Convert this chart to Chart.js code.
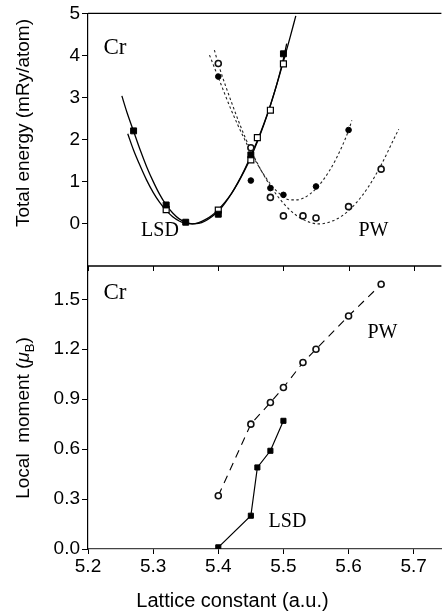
<!DOCTYPE html>
<html><head><meta charset="utf-8">
<script src="https://cdn.jsdelivr.net/npm/chart.js@4.4.1/dist/chart.umd.min.js"></script>
<style>
html,body{margin:0;padding:0;background:#fff;}
#wrap{position:relative;width:447px;height:615px;overflow:hidden;background:#fff;}
canvas{position:absolute;left:0;}
#c1{top:0;} #c2{top:250px;}
</style></head><body>
<div id="wrap"><canvas id="c1" width="447" height="280"></canvas><canvas id="c2" width="447" height="365"></canvas></div>
<script>
// ---------- data ----------
const xTicks = [5.2, 5.3, 5.4, 5.5, 5.6, 5.7];
const eTicks = [0, 1, 2, 3, 4, 5];
const mTicks = [0.0, 0.3, 0.6, 0.9, 1.2, 1.5];

// Top panel: total energy (mRy/atom)
const lsdFilledX = [5.27, 5.32, 5.35, 5.40, 5.45, 5.50];
const lsdFilledE = [2.21, 0.45, 0.04, 0.23, 1.64, 4.04];
const lsdOpenX = [5.32, 5.40, 5.45, 5.46, 5.48, 5.50];
const lsdOpenE = [0.34, 0.33, 1.52, 2.05, 2.70, 3.80];
const pwFilledX = [5.40, 5.45, 5.48, 5.50, 5.55, 5.60];
const pwFilledE = [3.50, 1.03, 0.85, 0.69, 0.89, 2.23];
const pwOpenX = [5.40, 5.45, 5.48, 5.50, 5.53, 5.55, 5.60, 5.65];
const pwOpenE = [3.81, 1.81, 0.63, 0.19, 0.19, 0.14, 0.41, 1.30];

// fitted curves
const lsdFit1X = [5.252,5.26,5.27,5.28,5.29,5.30,5.31,5.32,5.33,5.34,5.35,5.36,5.37,5.38,5.39,5.40,5.41,5.42,5.43,5.44,5.45,5.46,5.47,5.48,5.49,5.50,5.51,5.519];
const lsdFit1E = [3.04,2.64,2.20,1.76,1.36,1.01,0.70,0.45,0.26,0.12,0.04,0.00,0.01,0.07,0.17,0.30,0.49,0.71,0.98,1.28,1.62,1.98,2.38,2.82,3.32,3.86,4.42,4.94];
const lsdFit2X = [5.261,5.27,5.28,5.29,5.30,5.31,5.32,5.33,5.34,5.35,5.36,5.37,5.38,5.39,5.40,5.41,5.42,5.43,5.44,5.45,5.46,5.47,5.48,5.49,5.50,5.505];
const lsdFit2E = [2.14,1.75,1.38,1.04,0.75,0.51,0.32,0.17,0.07,0.01,0.00,0.03,0.10,0.20,0.34,0.51,0.72,0.97,1.26,1.58,1.95,2.36,2.82,3.33,3.92,4.28];
const pwFit1X = [5.3865,5.40,5.42,5.44,5.46,5.48,5.50,5.51,5.52,5.54,5.56,5.58,5.60,5.605];
const pwFit1E = [4.01,3.48,2.70,2.02,1.42,0.95,0.64,0.57,0.57,0.70,1.02,1.52,2.22,2.46];
const pwFit2X = [5.394,5.40,5.42,5.44,5.46,5.48,5.50,5.52,5.54,5.555,5.57,5.59,5.61,5.63,5.65,5.67,5.677];
const pwFit2E = [4.13,3.80,2.90,2.10,1.44,0.90,0.49,0.20,0.04,0.00,0.04,0.19,0.47,0.87,1.40,2.03,2.25];

// Bottom panel: local moment (muB)
const pwMomX = [5.40, 5.45, 5.48, 5.50, 5.53, 5.55, 5.60, 5.65];
const pwMom  = [0.32, 0.75, 0.88, 0.97, 1.12, 1.20, 1.40, 1.59];
const lsdMomX = [5.40, 5.45, 5.46, 5.48, 5.50];
const lsdMom  = [0.01, 0.20, 0.49, 0.59, 0.77];

// ---------- helpers ----------
const pts = (xs, ys) => xs.map((x, i) => ({x: x, y: ys[i]}));
const SANS = "'Liberation Sans', Arial, sans-serif";
const SERIF = "'Liberation Serif', 'Times New Roman', serif";
const XMIN = 5.2, XMAX = 5.7425;

function drawText(ctx, str, x, y, font, align) {
  ctx.font = font; ctx.fillStyle = '#000';
  ctx.textAlign = align || 'center'; ctx.textBaseline = 'middle';
  ctx.fillText(str, x, y);
}
function drawRotRuns(ctx, runs, cx, cy) {
  ctx.save();
  ctx.translate(cx, cy); ctx.rotate(-Math.PI / 2);
  ctx.fillStyle = '#000'; ctx.textBaseline = 'alphabetic'; ctx.textAlign = 'left';
  let total = 0;
  runs.forEach(r => { ctx.font = r.font; total += ctx.measureText(r.t).width; });
  let x = -total / 2;
  runs.forEach(r => { ctx.font = r.font; ctx.fillText(r.t, x, 7 + (r.dy || 0)); x += ctx.measureText(r.t).width; });
  ctx.restore();
}

const common = {
  responsive: false, animation: false, devicePixelRatio: 1, events: [],
  plugins: {legend: {display: false}, tooltip: {enabled: false}}
};
const yAxisBase = {
  afterFit: s => { s.width = 88; },
  grid: {drawOnChartArea: false, drawTicks: true, tickLength: 6, color: '#000', lineWidth: 1},
  border: {display: true, color: '#000', width: 1.2},
  ticks: {font: {family: SANS, size: 19}, color: '#000', padding: 2}
};

// ---------- top chart ----------
const topPlugin = {
  id: 'topDeco',
  afterDraw(chart) {
    const {ctx, chartArea: a} = chart;
    ctx.save();
    ctx.strokeStyle = '#000'; ctx.lineWidth = 1.2;
    ctx.beginPath(); ctx.moveTo(a.left, a.top); ctx.lineTo(a.right, a.top); ctx.stroke();
    drawText(ctx, 'Cr', 115, 47.5, '23px ' + SERIF);
    drawText(ctx, 'LSD', 160, 231, '20px ' + SERIF);
    drawText(ctx, 'PW', 373.5, 231, '20px ' + SERIF);
    drawRotRuns(ctx, [{t: 'Total energy (mRy/atom)', font: '19px ' + SANS}], 22, 123);
    ctx.restore();
  }
};

new Chart(document.getElementById('c1'), {
  type: 'line',
  data: {datasets: [
    {data: pts(lsdFilledX, lsdFilledE), showLine: false, pointStyle: 'rect', pointRadius: 4.2,
     pointBackgroundColor: '#000', pointBorderColor: '#000', pointBorderWidth: 1},
    {data: pts(lsdOpenX, lsdOpenE), showLine: false, pointStyle: 'rect', pointRadius: 4.2,
     pointBackgroundColor: '#fff', pointBorderColor: '#000', pointBorderWidth: 1.2},
    {data: pts(pwFilledX, pwFilledE), showLine: false, pointStyle: 'circle', pointRadius: 2.8,
     pointBackgroundColor: '#000', pointBorderColor: '#000', pointBorderWidth: 1},
    {data: pts(pwOpenX, pwOpenE), showLine: false, pointStyle: 'circle', pointRadius: 3,
     pointBackgroundColor: '#fff', pointBorderColor: '#111', pointBorderWidth: 1.6},
    {data: pts(lsdFit1X, lsdFit1E), pointRadius: 0, borderColor: '#000', borderWidth: 1.3, cubicInterpolationMode: 'monotone', fill: false},
    {data: pts(lsdFit2X, lsdFit2E), pointRadius: 0, borderColor: '#000', borderWidth: 1.3, cubicInterpolationMode: 'monotone', fill: false},
    {data: pts(pwFit1X, pwFit1E), pointRadius: 0, borderColor: '#222', borderWidth: 1.1, borderDash: [2.5, 2.5], cubicInterpolationMode: 'monotone', fill: false},
    {data: pts(pwFit2X, pwFit2E), pointRadius: 0, borderColor: '#222', borderWidth: 1.1, borderDash: [2.5, 2.5], cubicInterpolationMode: 'monotone', fill: false}
  ]},
  options: Object.assign({}, common, {
    layout: {padding: {top: 13, bottom: 14, left: 0, right: 0}},
    scales: {
      x: {type: 'linear', min: XMIN, max: XMAX, display: false},
      y: Object.assign({}, yAxisBase, {
        type: 'linear', min: -1, max: 5,
        afterBuildTicks: s => { s.ticks = eTicks.map(v => ({value: v})); },
        ticks: Object.assign({}, yAxisBase.ticks, {callback: v => String(v)})
      })
    }
  }),
  plugins: [topPlugin]
});

// ---------- bottom chart ----------
const botPlugin = {
  id: 'botDeco',
  afterDraw(chart) {
    const {ctx, chartArea: a} = chart;
    const xs = chart.scales.x;
    ctx.save();
    ctx.strokeStyle = '#000'; ctx.lineWidth = 1.5;
    ctx.beginPath(); ctx.moveTo(a.left, a.top); ctx.lineTo(a.right, a.top); ctx.stroke();
    ctx.lineWidth = 1;
    xTicks.forEach(v => {
      const px = Math.round(xs.getPixelForValue(v)) + 0.5;
      ctx.beginPath(); ctx.moveTo(px, a.top); ctx.lineTo(px, a.top + 5); ctx.stroke();
    });
    drawText(ctx, 'Cr', 115, 43, '23px ' + SERIF);
    drawText(ctx, 'PW', 382.5, 83, '20px ' + SERIF);
    drawText(ctx, 'LSD', 287.5, 272, '20px ' + SERIF);
    drawText(ctx, 'Lattice constant (a.u.)', 232.5, 351, '20px ' + SANS);
    drawRotRuns(ctx, [
      {t: 'Local  moment (', font: '19px ' + SANS},
      {t: '\u03BC', font: 'italic 19px ' + SANS},
      {t: 'B', font: '13px ' + SANS, dy: 5},
      {t: ')', font: '19px ' + SANS}
    ], 22, 168);
    ctx.restore();
  }
};

new Chart(document.getElementById('c2'), {
  type: 'line',
  data: {datasets: [
    {data: pts(lsdMomX, lsdMom), borderColor: '#000', borderWidth: 1.2, pointStyle: 'rect', pointRadius: 3.6,
     pointBackgroundColor: '#000', pointBorderColor: '#000', pointBorderWidth: 1, tension: 0, fill: false},
    {data: pts(pwMomX, pwMom), borderColor: '#000', borderWidth: 1.1, borderDash: [8, 6], pointStyle: 'circle', pointRadius: 3,
     pointBackgroundColor: '#fff', pointBorderColor: '#111', pointBorderWidth: 1.6, tension: 0, fill: false}
  ]},
  options: Object.assign({}, common, {
    layout: {padding: {top: 16, bottom: 0, left: 0, right: 0}},
    scales: {
      x: {
        type: 'linear', min: XMIN, max: XMAX,
        afterBuildTicks: s => { s.ticks = xTicks.map(v => ({value: v})); },
        afterFit: s => { s.height = 66; },
        grid: {drawOnChartArea: false, drawTicks: true, tickLength: 5, color: '#000'},
        border: {display: true, color: '#444', width: 1.2},
        ticks: {font: {family: SANS, size: 19}, color: '#000', padding: 1, maxRotation: 0, callback: v => v.toFixed(1)}
      },
      y: Object.assign({}, yAxisBase, {
        type: 'linear', min: 0, max: 1.7,
        afterBuildTicks: s => { s.ticks = mTicks.map(v => ({value: v})); },
        ticks: Object.assign({}, yAxisBase.ticks, {callback: v => v.toFixed(1)})
      })
    }
  }),
  plugins: [botPlugin]
});
</script>
</body></html>
